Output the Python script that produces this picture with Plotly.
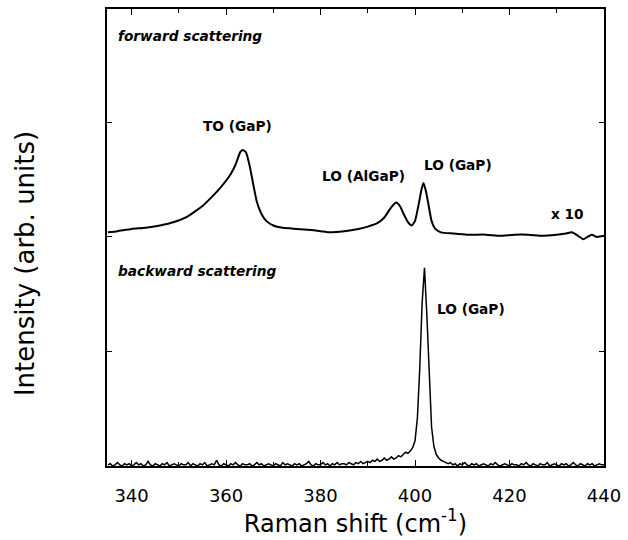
import numpy as np
import plotly.graph_objects as go

# Forward scattering spectrum (x10), offset upward
fwd_x = [335, 337, 340, 343, 346, 349, 351.5, 353, 355, 357, 359, 361, 362, 363, 363.5,
         364.2, 365, 365.8, 366.5, 367.5, 368.5, 370, 372, 375, 378, 380, 382, 385, 388,
         390, 392, 393.5, 395, 396, 396.8, 397.6, 398.5, 399.3, 400, 400.7, 401.4, 401.8,
         402.3, 402.9, 403.5, 404.3, 405.5, 408, 411, 415, 418, 421, 424, 427, 430, 432,
         433.2, 434.5, 435.6, 436.5, 437.4, 438.5, 440]
fwd_y = [2.04, 2.05, 2.07, 2.08, 2.10, 2.13, 2.17, 2.21, 2.27, 2.35, 2.44, 2.55, 2.63, 2.74, 2.76,
         2.74, 2.62, 2.45, 2.31, 2.20, 2.14, 2.10, 2.08, 2.07, 2.06, 2.05, 2.04, 2.05, 2.07,
         2.09, 2.12, 2.17, 2.26, 2.30, 2.27, 2.20, 2.13, 2.10, 2.14, 2.27, 2.42, 2.47,
         2.40, 2.27, 2.14, 2.07, 2.04, 2.03, 2.02, 2.02, 2.01, 2.02, 2.02, 2.01, 2.02, 2.03,
         2.04, 2.01, 1.98, 2.00, 2.02, 2.00, 2.01]

# Backward scattering spectrum, sampled every 0.5 cm-1 from 335 to 440
bwd_x = np.arange(335, 440.01, 0.5)
bwd_y = [
    0.01, 0.02, 0.00, 0.01, 0.03, 0.01, 0.00, 0.02, 0.01, 0.02,
    0.00, 0.01, 0.03, 0.01, 0.02, 0.00, 0.01, 0.04, 0.01, 0.00,
    0.02, 0.01, 0.00, 0.02, 0.01, 0.03, 0.00, 0.01, 0.02, 0.01,
    0.00, 0.02, 0.01, 0.01, 0.03, 0.00, 0.02, 0.01, 0.00, 0.02,
    0.01, 0.03, 0.00, 0.01, 0.02, 0.01, 0.05, 0.01, 0.00, 0.02,
    0.01, 0.00, 0.02, 0.01, 0.03, 0.01, 0.00, 0.02, 0.01, 0.01,
    0.02, 0.00, 0.01, 0.03, 0.01, 0.02, 0.00, 0.01, 0.02, 0.01,
    0.00, 0.02, 0.01, 0.00, 0.03, 0.01, 0.02, 0.01, 0.00, 0.02,
    0.01, 0.02, 0.00, 0.01, 0.02, 0.04, 0.01, 0.00, 0.02, 0.01,
    0.01, 0.03, 0.01, 0.02, 0.00, 0.02, 0.01, 0.03, 0.01, 0.02,
    0.02, 0.01, 0.03, 0.02, 0.01, 0.03, 0.02, 0.04, 0.02, 0.03,
    0.04, 0.03, 0.05, 0.04, 0.06, 0.04, 0.05, 0.07, 0.05, 0.06,
    0.08, 0.06, 0.07, 0.09, 0.08, 0.10, 0.12, 0.11, 0.13, 0.16,
    0.22, 0.42, 0.85, 1.42, 1.73, 1.32, 0.78, 0.34, 0.17, 0.10,
    0.07, 0.05, 0.04, 0.03, 0.02, 0.03, 0.01, 0.02, 0.00, 0.02,
    0.01, 0.03, 0.01, 0.00, 0.02, 0.01, 0.02, 0.00, 0.01, 0.02,
    0.01, 0.00, 0.02, 0.01, 0.03, 0.01, 0.00, 0.01, 0.02, 0.01,
    0.00, 0.02, 0.01, 0.01, 0.00, 0.02, 0.01, 0.03, 0.01, 0.00,
    0.02, 0.01, 0.00, 0.02, 0.01, 0.01, 0.03, 0.00, 0.01, 0.02,
    0.01, 0.00, 0.02, 0.01, 0.02, 0.00, 0.01, 0.03, 0.01, 0.00,
    0.02, 0.01, 0.00, 0.02, 0.01, 0.02, 0.00, 0.01, 0.02, 0.01,
    0.01,
]

x_ticks = [340, 360, 380, 400, 420, 440]

# Labels: (text, x, y, xanchor, italic)
labels = [
    ("forward scattering", 336.6, 3.75, "left", True),
    ("TO (GaP)", 362.4, 2.97, "center", False),
    ("LO (AlGaP)", 389.1, 2.53, "center", False),
    ("LO (GaP)", 409.2, 2.63, "center", False),
    ("x 10", 432.2, 2.20, "center", False),
    ("backward scattering", 336.6, 1.70, "left", True),
    ("LO (GaP)", 411.9, 1.37, "center", False),
]

FONT = "DejaVu Sans"

fig = go.Figure()
fig.add_trace(go.Scatter(x=fwd_x, y=fwd_y, mode="lines",
                         line=dict(color="black", width=2, shape="spline", smoothing=0.5),
                         showlegend=False))
fig.add_trace(go.Scatter(x=bwd_x, y=bwd_y, mode="lines",
                         line=dict(color="black", width=1.5),
                         showlegend=False))

for text, x, y, xa, it in labels:
    t = f"<b><i>{text}</i></b>" if it else f"<b>{text}</b>"
    fig.add_annotation(x=x, y=y, xref="x", yref="y", text=t, showarrow=False,
                       xanchor=xa, yanchor="middle",
                       font=dict(family=FONT, size=13.7, color="black"))

# Y-axis title (placed slightly below the axis centre, as in the reference)
fig.add_annotation(x=-0.165, y=0.444, xref="paper", yref="paper",
                   text="Intensity (arb. units)", textangle=-90, showarrow=False,
                   xanchor="center", yanchor="middle",
                   font=dict(family=FONT, size=26, color="black"))

fig.update_layout(
    width=628, height=540,
    margin=dict(l=107, r=18, t=7, b=74),
    paper_bgcolor="white", plot_bgcolor="white",
    font=dict(family=FONT, color="black"),
)
fig.update_xaxes(
    range=[334.8, 440], tickvals=x_ticks, ticks="inside", ticklen=6, tickwidth=1.2,
    tickcolor="black", minor=dict(dtick=10, tick0=330, ticks="inside", ticklen=4, tickcolor="black"),
    showline=True, linecolor="black", linewidth=1.8, mirror="ticks",
    showgrid=False, zeroline=False, ticklabelstandoff=12,
    tickfont=dict(family=FONT, size=18),
    title=dict(text="Raman shift (cm<sup>-1</sup>)", font=dict(family=FONT, size=24), standoff=4),
)
fig.update_yaxes(
    range=[0, 3.99], tickvals=[1, 2, 3], ticks="inside", ticklen=5, tickwidth=1.2,
    tickcolor="black", showticklabels=False,
    showline=True, linecolor="black", linewidth=1.8, mirror="ticks",
    showgrid=False, zeroline=False,
)

fig.write_html("out.html")
